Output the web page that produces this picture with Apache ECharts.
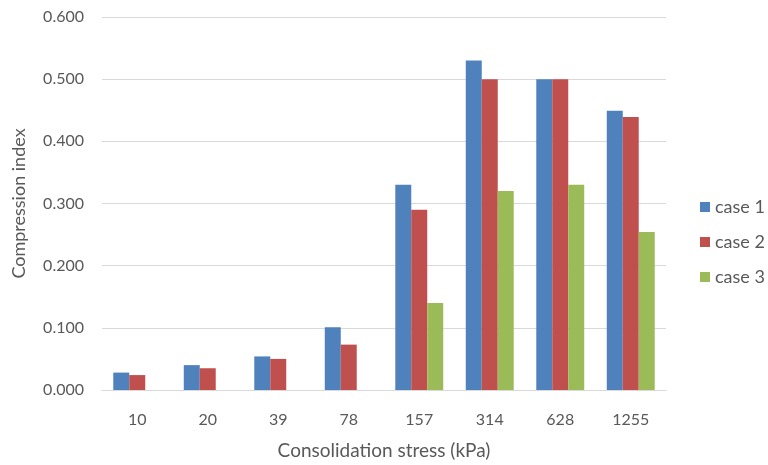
<!DOCTYPE html>
<html>
<head>
<meta charset="utf-8">
<script src="https://cdn.jsdelivr.net/npm/echarts@6/dist/echarts.min.js"></script>
<style>html,body{margin:0;padding:0;background:#fff}#chart{width:768px;height:465px}</style>
</head>
<body>
<div id="chart"></div>
<script>
// Consolidation stress steps (kPa)
const categories = ['10', '20', '39', '78', '157', '314', '628', '1255'];
// Compression index per case (null = no measurement)
const case1 = [0.028, 0.040, 0.054, 0.101, 0.330, 0.530, 0.500, 0.449];
const case2 = [0.024, 0.035, 0.050, 0.073, 0.290, 0.500, 0.500, 0.439];
const case3 = [null, null, null, null, 0.140, 0.320, 0.330, 0.254];
const yTicks = [0, 0.1, 0.2, 0.3, 0.4, 0.5, 0.6];

const font = 'Lato, "Open Sans", sans-serif';
const textColor = '#595959';

const chart = echarts.init(document.getElementById('chart'));
const bar = (name, data, color) => ({
  name, type: 'bar', data,
  barGap: '0%', barCategoryGap: '32%',
  itemStyle: { color }
});
chart.setOption({
  animation: false,
  grid: { left: 102, right: 102, top: 17, bottom: 72 },
  legend: {
    orient: 'vertical', left: 695, top: 193,
    itemWidth: 10, itemHeight: 10, itemGap: 17, icon: 'rect',
    textStyle: { fontFamily: font, fontSize: 18, color: textColor }
  },
  xAxis: {
    type: 'category', data: categories,
    name: 'Consolidation stress (kPa)', nameLocation: 'middle', nameGap: 51,
    nameTextStyle: { fontFamily: font, fontSize: 19, color: textColor },
    axisLine: { lineStyle: { color: '#D9D9D9', width: 1 } },
    axisTick: { show: false },
    axisLabel: { fontFamily: font, fontSize: 16, color: textColor, margin: 22 }
  },
  yAxis: {
    type: 'value', min: yTicks[0], max: yTicks[yTicks.length - 1], interval: 0.1,
    name: 'Compression index', nameLocation: 'middle', nameGap: 74,
    nameTextStyle: { fontFamily: font, fontSize: 18, color: textColor },
    axisLine: { show: false }, axisTick: { show: false },
    splitLine: { lineStyle: { color: '#D9D9D9', width: 1 } },
    axisLabel: { fontFamily: font, fontSize: 16, color: textColor, margin: 18,
      formatter: v => v.toFixed(3) }
  },
  series: [
    bar('case 1', case1, '#4F81BD'),
    bar('case 2', case2, '#C0504D'),
    bar('case 3', case3, '#9BBB59')
  ]
});
</script>
</body>
</html>
